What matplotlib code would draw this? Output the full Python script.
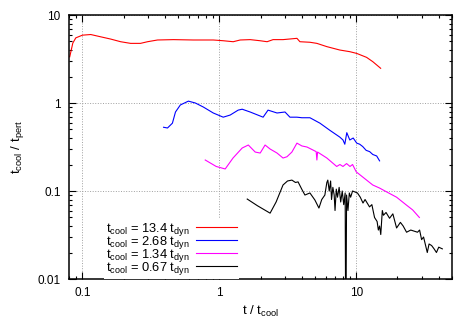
import matplotlib
matplotlib.use("Agg")
import matplotlib.pyplot as plt
from matplotlib.ticker import LogLocator, FixedFormatter, FixedLocator, NullFormatter

plt.rcParams['font.family'] = ['Liberation Sans', 'DejaVu Sans']
plt.rcParams['mathtext.fontset'] = 'custom'
plt.rcParams['mathtext.rm'] = 'Liberation Sans'
plt.rcParams['mathtext.it'] = 'Liberation Sans'

labels = [r'$\rm t_{cool}$ = 13.4 $\rm t_{dyn}$', r'$\rm t_{cool}$ = 2.68 $\rm t_{dyn}$',
          r'$\rm t_{cool}$ = 1.34 $\rm t_{dyn}$', r'$\rm t_{cool}$ = 0.67 $\rm t_{dyn}$']
colors = ['#ff0000', '#0000ff', '#ff00ff', '#000000']

red_x = [0.081, 0.0853, 0.0897, 0.1003, 0.1153, 0.1364, 0.161, 0.1905, 0.2253, 0.266, 0.2995, 0.354,
         0.463, 0.647, 0.904, 1.069, 1.264, 1.422, 1.681, 1.987, 2.234, 2.47, 2.92, 3.69, 3.88,
         4.59, 5.16, 6.1, 7.58, 8.97, 10.08, 11.9, 13.2, 15.07]
red_y = [3.35, 4.8, 5.5, 5.9, 6.0, 5.65, 5.33, 4.97, 4.76, 4.76, 4.97, 5.2,
         5.25, 5.2, 5.2, 5.1, 4.97, 5.2, 5.25, 5.1, 4.97, 5.25, 5.25, 5.43, 4.97,
         4.9, 4.76, 4.37, 4.0, 3.83, 3.66, 3.3, 2.95, 2.48]

blue_x = [0.392, 0.419, 0.455, 0.479, 0.52, 0.595, 0.669, 0.765, 0.904, 1.069, 1.202, 1.374, 1.47,
          1.681, 2.09, 2.27, 2.64, 3.02, 3.28, 3.69, 4.01, 4.59, 5.43, 6.41, 7.58, 8.0, 8.25,
          8.53, 8.97, 9.5, 10.08, 10.6, 11.15, 11.8, 12.53, 13.2, 14.1, 14.8]
blue_y = [0.53, 0.52, 0.59, 0.79, 0.95, 1.05, 1.0, 0.9, 0.77, 0.69, 0.73, 0.83, 0.85,
          0.79, 0.69, 0.83, 0.77, 0.79, 0.69, 0.69, 0.68, 0.68, 0.59, 0.49, 0.41, 0.38, 0.34,
          0.46, 0.38, 0.40, 0.35, 0.34, 0.32, 0.29, 0.28, 0.26, 0.25, 0.22]

mag_x = [0.79, 0.95, 1.105, 1.26, 1.47, 1.63, 1.83, 1.99, 2.16, 2.35, 2.64, 2.92, 3.12, 3.39,
         3.69, 4.01, 4.37, 5.1, 5.16, 5.22, 6.1, 7.2, 7.6, 8.0, 8.5, 9.0, 9.4, 10.0, 11.9,
         13.2, 14.8, 16.6, 19.7, 23.3, 25.8, 28.9]
mag_y = [0.225, 0.19, 0.178, 0.237, 0.308, 0.333, 0.277, 0.27, 0.333, 0.30, 0.27, 0.237, 0.245, 0.277,
         0.35, 0.325, 0.316, 0.28, 0.225, 0.277, 0.237, 0.19, 0.20, 0.19, 0.205, 0.19, 0.2, 0.165, 0.133,
         0.117, 0.108, 0.098, 0.085, 0.069, 0.061, 0.05]

blk_x = [1.6, 1.9, 2.35, 2.6, 2.92, 3.15, 3.39, 3.6, 3.76, 4.0, 4.22, 4.59, 4.99, 5.34, 5.6, 5.9,
         6.1, 6.2, 6.35, 6.5, 6.6, 6.75, 6.9, 7.0, 7.15, 7.3, 7.5, 7.7, 7.9, 8.1, 8.3, 8.36, 8.42,
         8.5, 8.7, 8.9, 9.1, 9.4, 9.7, 10.2, 10.7, 11.2, 11.6, 12.5, 13.0, 13.6, 14.2, 14.5, 14.8,
         15.1, 15.5, 15.8, 16.5, 17.5, 18.5, 19.7, 21.0, 22.0, 23.3, 25.0, 28.0, 29.0, 30.0, 31.0,
         33.0, 34.0, 35.5, 37.0, 38.5, 40.0, 42.5]
blk_y = [0.081, 0.068, 0.056, 0.075, 0.117, 0.13, 0.133, 0.125, 0.127, 0.105, 0.09, 0.095, 0.079,
         0.064, 0.08, 0.09, 0.125, 0.133, 0.1, 0.13, 0.08, 0.11, 0.09, 0.06, 0.105, 0.085, 0.11,
         0.075, 0.1, 0.07, 0.095, 0.005, 0.005, 0.09, 0.06, 0.095, 0.085, 0.1, 0.098, 0.095, 0.085,
         0.073, 0.08, 0.066, 0.07, 0.05, 0.045, 0.036, 0.04, 0.032, 0.06, 0.053, 0.057, 0.049, 0.055,
         0.038, 0.044, 0.04, 0.034, 0.036, 0.034, 0.036, 0.028, 0.03, 0.02, 0.025, 0.024, 0.022,
         0.02, 0.023, 0.022]

xs = [red_x, blue_x, mag_x, blk_x]
ys = [red_y, blue_y, mag_y, blk_y]

fig = plt.figure(figsize=(4.75, 3.32), dpi=100)
ax = fig.add_axes([69/475, 1-279/332, (452-69)/475, (279-15)/332])
ax.set_xscale('log')
ax.set_yscale('log')
ax.set_xlim(0.08, 50)
ax.set_ylim(0.01, 10)

for x, y, c, l in zip(xs, ys, colors, labels):
    ax.plot(x, y, color=c, lw=0.8, label=l)

ax.grid(True, which='major', color='#a0a0a0', ls=':', lw=0.7)
ax.set_axisbelow(True)

ax.xaxis.set_major_locator(FixedLocator([0.1, 1, 10]))
ax.xaxis.set_major_formatter(FixedFormatter(['0.1', '1', '10']))
ax.yaxis.set_major_locator(FixedLocator([0.01, 0.1, 1, 10]))
ax.yaxis.set_major_formatter(FixedFormatter(['0.01', '0.1', '1', '10']))
ax.xaxis.set_minor_locator(LogLocator(base=10, subs=range(2, 10), numticks=20))
ax.yaxis.set_minor_locator(LogLocator(base=10, subs=range(2, 10), numticks=20))
ax.xaxis.set_minor_formatter(NullFormatter())
ax.yaxis.set_minor_formatter(NullFormatter())
ax.tick_params(which='both', direction='in', top=True, right=True, labelsize=8.5, width=0.8)
ax.tick_params(which='major', length=5, pad=6)
ax.tick_params(which='minor', length=2.5)
for s in ax.spines.values():
    s.set_linewidth(1.1)

ax.set_xlabel(r'$\rm t\ /\ t_{cool}$', fontsize=9.5, labelpad=3)
ax.set_ylabel(r'$\rm t_{cool}\ /\ t_{pert}$', fontsize=9.5, labelpad=8)

leg = ax.legend(loc='lower right', bbox_to_anchor=((239-69)/383, 0.0), markerfirst=False,
                fontsize=9.3, frameon=True, framealpha=1, facecolor='white', edgecolor='none',
                fancybox=False, borderaxespad=0.0, borderpad=0.15, labelspacing=-0.3,
                handlelength=3.2, handletextpad=0.5)

fig.savefig('out.png', dpi=100)
